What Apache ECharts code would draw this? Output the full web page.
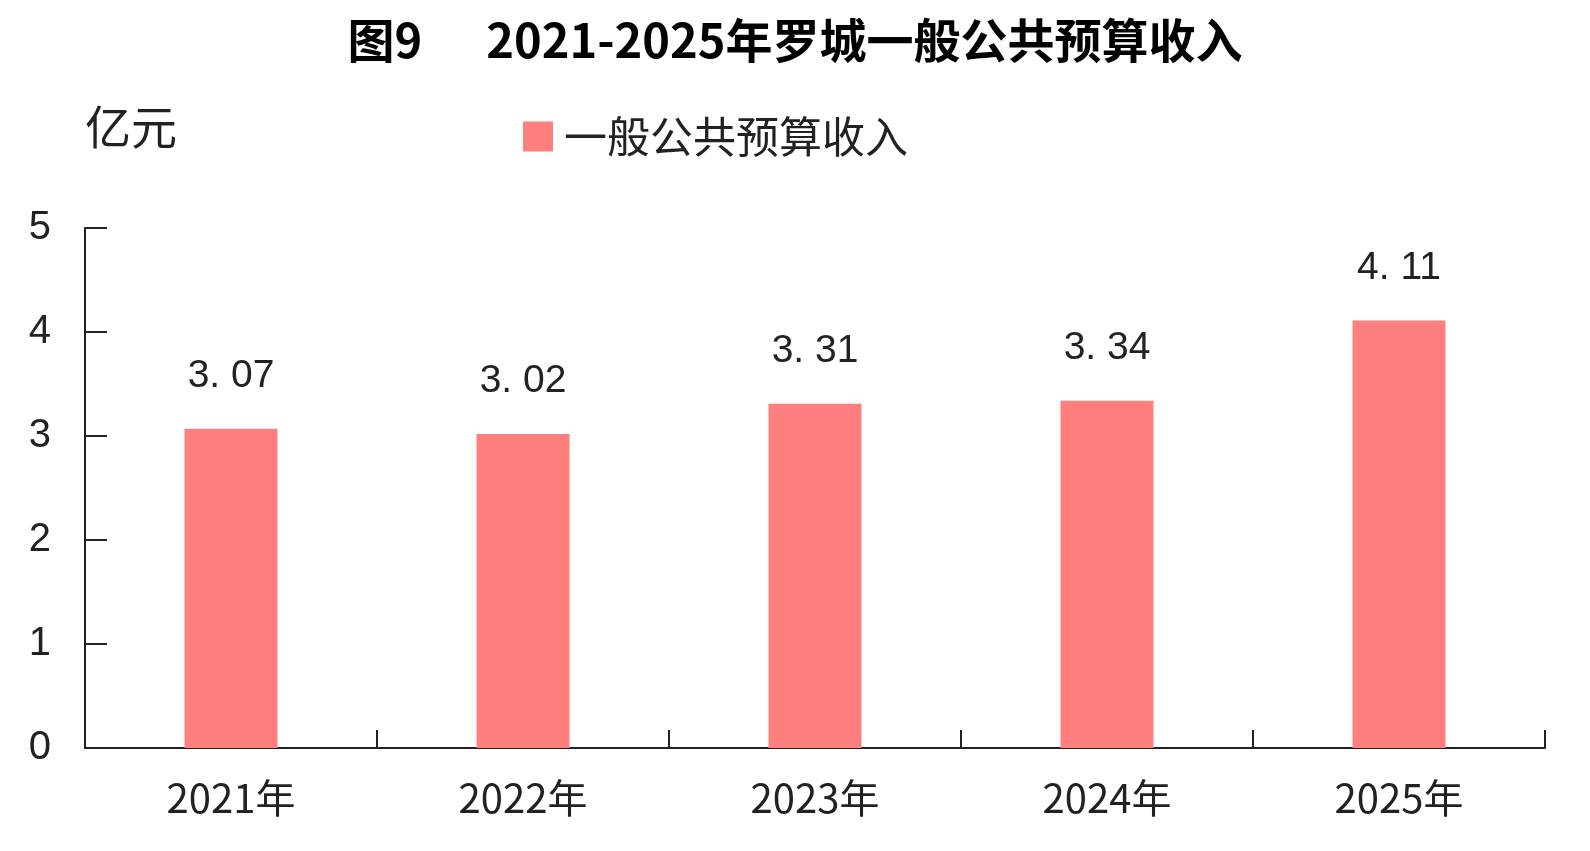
<!DOCTYPE html>
<html><head><meta charset="utf-8">
<script src="https://cdn.jsdelivr.net/npm/echarts@6/dist/echarts.min.js"></script>
<style>html,body{margin:0;padding:0;background:#fff}#c{width:1590px;height:851px}</style>
</head><body><div id="c"></div>
<script>
const categories = ['2021年','2022年','2023年','2024年','2025年'];
const values = [3.07, 3.02, 3.31, 3.34, 4.11];
const seriesName = '一般公共预算收入';
const titleText = '图9      2021-2025年罗城一般公共预算收入';
const unitText = '亿元';

const chart = echarts.init(document.getElementById('c'));
const font = '"Noto Sans CJK SC", "Liberation Sans", sans-serif';
const numFont = '"Liberation Sans", Arial, sans-serif';
chart.setOption({
  animation: false,
  title: {text: titleText, left: 'center', top: 12, textStyle: {fontFamily: font, fontSize: 47, fontWeight: 'bold', color: '#000'}},
  graphic: [{type: 'text', left: 85, top: 104, style: {text: unitText, font: '46px ' + font, fill: '#222'}}],
  legend: {left: 518, top: 110, itemWidth: 30, itemHeight: 30, itemGap: 14, icon: 'rect',
    textStyle: {fontFamily: font, fontSize: 43, color: '#222', padding: [0, 0, 0, 6]}},
  grid: {left: 85, right: 45, top: 228, bottom: 103},
  xAxis: {type: 'category', data: categories,
    axisLine: {lineStyle: {color: '#222', width: 2}},
    axisTick: {show: true, inside: true, length: 18, lineStyle: {color: '#222', width: 2}},
    axisLabel: {fontFamily: font, fontSize: 40, color: '#222', margin: 30}},
  yAxis: {type: 'value', min: 0, max: 5, interval: 1,
    axisLine: {show: true, lineStyle: {color: '#222', width: 2}},
    axisTick: {show: true, inside: true, length: 22, lineStyle: {color: '#222', width: 2}},
    splitLine: {show: false},
    axisLabel: {fontFamily: numFont, fontSize: 40, color: '#222', margin: 34}},
  series: [{type: 'bar', name: seriesName, data: values, barWidth: 93,
    itemStyle: {color: '#FF7F7F'},
    label: {show: true, position: 'top', distance: 33, fontFamily: numFont, fontSize: 39, color: '#222',
      formatter: p => p.value.toFixed(2).replace('.', '. ')}}]
});
</script></body></html>
